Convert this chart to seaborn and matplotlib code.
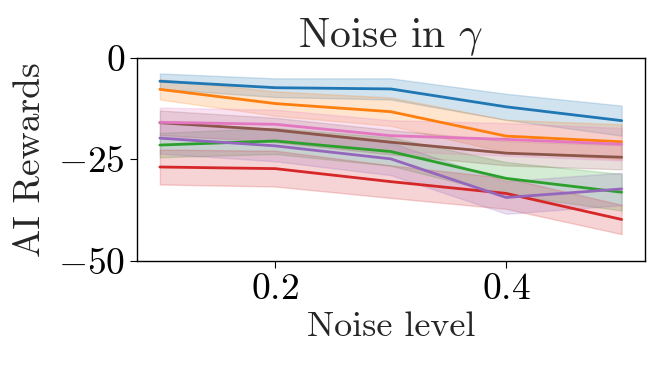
import numpy as np
import pandas as pd
import matplotlib
matplotlib.use("Agg")
import matplotlib.pyplot as plt
import seaborn as sns

noise = [0.1, 0.2, 0.3, 0.4, 0.5]
series_names = ["blue", "orange", "green", "red", "purple", "brown", "pink"]
blue = [-5.8, -7.4, -7.7, -12.1, -15.5]
orange = [-7.8, -11.3, -13.3, -19.3, -20.7]
green = [-21.5, -20.5, -23.1, -29.7, -33.1]
red = [-26.9, -27.3, -30.5, -33.4, -39.8]
purple = [-19.8, -21.7, -24.9, -34.4, -32.3]
brown = [-16.0, -17.8, -20.8, -23.5, -24.5]
pink = [-15.9, -16.4, -19.2, -20.1, -21.3]
# half-widths of shaded bands
blue_err = [1.9, 2.3, 2.6, 3.2, 3.7]
orange_err = [2.5, 3.0, 3.5, 4.0, 4.3]
green_err = [3.0, 3.2, 3.5, 4.0, 4.5]
red_err = [4.3, 4.4, 4.0, 3.8, 3.6]
purple_err = [3.8, 3.8, 4.0, 4.0, 4.0]
brown_err = [3.0, 3.0, 3.0, 3.0, 3.0]
pink_err = [3.6, 3.6, 3.8, 4.0, 4.0]

means = [blue, orange, green, red, purple, brown, pink]
errs = [blue_err, orange_err, green_err, red_err, purple_err, brown_err, pink_err]

rows = []
for name, m in zip(series_names, means):
    for x, v in zip(noise, m):
        rows.append({"Noise level": x, "AI Rewards": v, "series": name})
df = pd.DataFrame(rows)

sns.set_style("ticks")
plt.rcParams.update({
    "font.family": "serif",
    "font.serif": ["cmr10", "DejaVu Serif"],
    "mathtext.fontset": "cm",
    "axes.formatter.use_mathtext": True,
    "axes.edgecolor": "black",
    "xtick.color": "black",
    "ytick.color": "black",
    "axes.linewidth": 1.0,
    "xtick.major.size": 5,
    "ytick.major.size": 5,
})

palette = sns.color_palette("tab10", 7)
fig = plt.figure(figsize=(6.64, 3.67), dpi=100)
ax = fig.add_axes([0.206, 0.289, 0.765, 0.554])
sns.lineplot(data=df, x="Noise level", y="AI Rewards", hue="series",
             hue_order=series_names, palette=palette, linewidth=2,
             legend=False, ax=ax, errorbar=None)
for c, m, e in zip(palette, means, errs):
    m = np.array(m); e = np.array(e)
    ax.fill_between(noise, m - e, m + e, color=c, alpha=0.2)

ax.set_ylim(-50, 0)
ax.set_yticks([0, -25, -50])
ax.set_xticks([0.2, 0.4])
ax.set_xlim(0.08, 0.52)
ax.tick_params(labelsize=27)
ax.set_xlabel("Noise level", fontsize=26, labelpad=4)
ax.set_ylabel("AI Rewards", fontsize=27, labelpad=8)
ax.set_title(r"Noise in $\gamma$", fontsize=30, pad=6)
fig.savefig("out.png", dpi=100)
